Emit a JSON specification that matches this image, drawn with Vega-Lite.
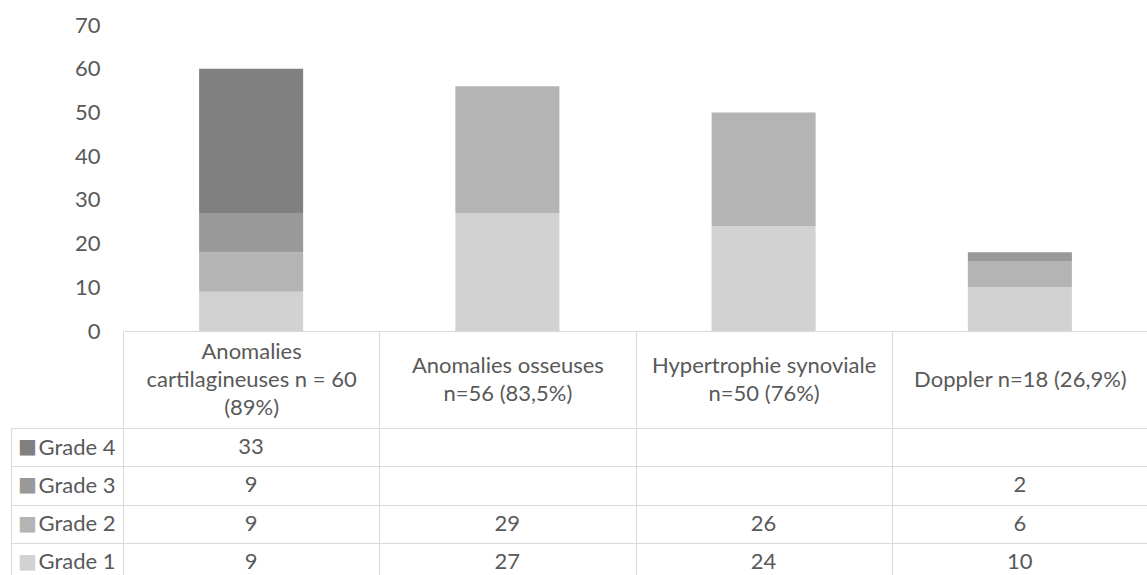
{
  "$schema": "https://vega.github.io/schema/vega-lite/v6.json",
  "padding": {"left": 10, "top": 14, "right": 0, "bottom": 0},
  "background": "white",
  "spacing": -12,
  "config": {
    "font": "Lato",
    "view": {"stroke": null},
    "axis": {"labelFont": "Lato", "labelColor": "#595959", "labelFontSize": 22, "titleFont": "Lato"},
    "text": {"font": "Lato"}
  },
  "data": {
    "values": [
      {"cat": "Anomalies cartilagineuses n = 60 (89%)", "grade": "Grade 1", "n": 9},
      {"cat": "Anomalies cartilagineuses n = 60 (89%)", "grade": "Grade 2", "n": 9},
      {"cat": "Anomalies cartilagineuses n = 60 (89%)", "grade": "Grade 3", "n": 9},
      {"cat": "Anomalies cartilagineuses n = 60 (89%)", "grade": "Grade 4", "n": 33},
      {"cat": "Anomalies osseuses n=56 (83,5%)", "grade": "Grade 1", "n": 27},
      {"cat": "Anomalies osseuses n=56 (83,5%)", "grade": "Grade 2", "n": 29},
      {"cat": "Hypertrophie synoviale n=50 (76%)", "grade": "Grade 1", "n": 24},
      {"cat": "Hypertrophie synoviale n=50 (76%)", "grade": "Grade 2", "n": 26},
      {"cat": "Doppler n=18 (26,9%)", "grade": "Grade 1", "n": 10},
      {"cat": "Doppler n=18 (26,9%)", "grade": "Grade 2", "n": 6},
      {"cat": "Doppler n=18 (26,9%)", "grade": "Grade 3", "n": 2}
    ]
  },
  "vconcat": [
    {
      "width": 1025,
      "height": 306,
      "mark": {"type": "bar", "width": {"band": 0.406}},
      "encoding": {
        "x": {
          "field": "cat", "type": "nominal",
          "sort": ["Anomalies cartilagineuses n = 60 (89%)", "Anomalies osseuses n=56 (83,5%)", "Hypertrophie synoviale n=50 (76%)", "Doppler n=18 (26,9%)"],
          "scale": {"type": "band", "paddingInner": 0, "paddingOuter": 0},
          "axis": {
            "title": null, "labelAngle": 0, "labelLimit": 0,
            "domainColor": "#d9d9d9", "tickColor": "#d9d9d9", "tickSize": 96, "tickBand": "extent",
            "labelBaseline": "middle", "labelLineHeight": 28,
            "labelPadding": {"condition": [
              {"test": "datum.value === 'Anomalies cartilagineuses n = 60 (89%)'", "value": -76},
              {"test": "datum.value === 'Doppler n=18 (26,9%)'", "value": -48}
            ], "value": -62},
            "labelExpr": "datum.label == 'Anomalies cartilagineuses n = 60 (89%)' ? ['Anomalies', 'cartilagineuses n = 60', '(89%)'] : datum.label == 'Doppler n=18 (26,9%)' ? datum.label : [slice(datum.label, 0, indexof(datum.label, ' n=')), slice(datum.label, indexof(datum.label, ' n=') + 1)]"
          }
        },
        "y": {
          "field": "n", "type": "quantitative", "stack": "zero",
          "scale": {"domain": [0, 70]},
          "axis": {"title": null, "grid": false, "domain": false, "ticks": false, "labelPadding": 23, "values": [0, 10, 20, 30, 40, 50, 60, 70]}
        },
        "color": {
          "field": "grade", "type": "nominal",
          "scale": {"domain": ["Grade 1", "Grade 2", "Grade 3", "Grade 4"], "range": ["#d2d2d2", "#b4b4b4", "#999999", "#808080"]},
          "legend": null
        },
        "order": {"field": "grade", "sort": "ascending"}
      }
    },
    {
      "width": 1025,
      "height": 153,
      "layer": [
        {
          "mark": {"type": "text", "fontSize": 22, "color": "#595959", "baseline": "middle"},
          "encoding": {
            "x": {
              "field": "cat", "type": "nominal",
              "sort": ["Anomalies cartilagineuses n = 60 (89%)", "Anomalies osseuses n=56 (83,5%)", "Hypertrophie synoviale n=50 (76%)", "Doppler n=18 (26,9%)"],
              "scale": {"type": "band", "paddingInner": 0, "paddingOuter": 0},
              "axis": {"title": null, "labels": false, "ticks": false, "domain": false, "grid": true, "gridColor": "#d9d9d9", "tickBand": "extent"}
            },
            "y": {
              "field": "grade", "type": "nominal",
              "scale": {"type": "band", "domain": ["Grade 4", "Grade 3", "Grade 2", "Grade 1"], "paddingInner": 0, "paddingOuter": 0},
              "axis": {
                "title": null, "orient": "left", "offset": 112, "tickSize": -112, "tickBand": "extent",
                "tickColor": "#d9d9d9", "grid": true, "gridColor": "#d9d9d9", "domain": true, "domainColor": "#d9d9d9",
                "labelAlign": "left", "labelBaseline": "middle", "labelPadding": 85
              }
            },
            "text": {"field": "n", "type": "quantitative"}
          }
        },
        {
          "mark": {"type": "text"},
          "encoding": {
            "y": {
              "field": "grade", "type": "nominal",
              "scale": {"type": "band", "domain": ["Grade 4", "Grade 3", "Grade 2", "Grade 1"], "paddingInner": 0, "paddingOuter": 0},
              "axis": {
                "title": null, "orient": "left", "ticks": false, "domain": false, "grid": false,
                "labelExpr": "'■'", "labelAlign": "center", "labelBaseline": "middle", "labelPadding": 96,
                "labelFont": "DejaVu Sans", "labelFontSize": 20,
                "labelColor": {"condition": [
                  {"test": "datum.value === 'Grade 4'", "value": "#808080"},
                  {"test": "datum.value === 'Grade 3'", "value": "#999999"},
                  {"test": "datum.value === 'Grade 2'", "value": "#b4b4b4"}
                ], "value": "#d2d2d2"}
              }
            },
            "text": {"value": ""}
          }
        }
      ],
      "resolve": {"axis": {"y": "independent"}}
    }
  ]
}
